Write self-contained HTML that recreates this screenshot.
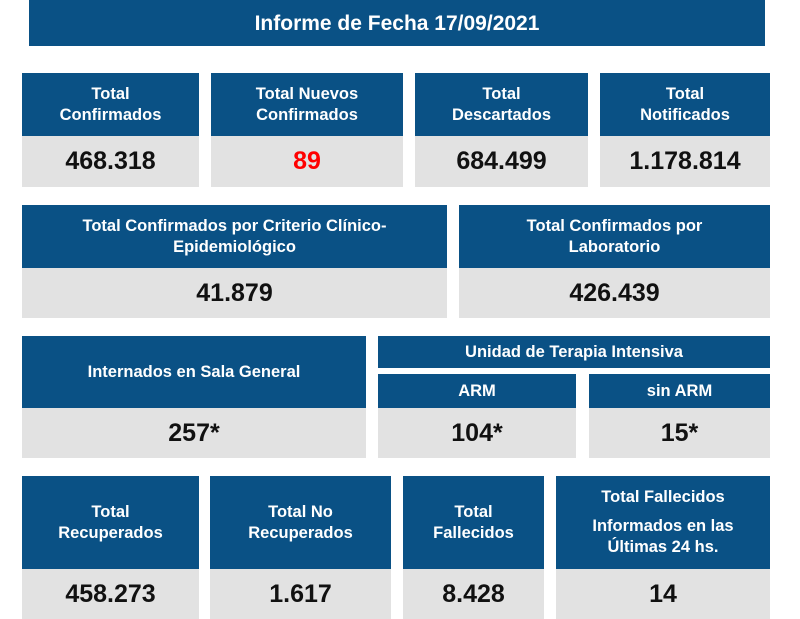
<!DOCTYPE html>
<html><head><meta charset="utf-8"><style>
body{margin:0;width:800px;height:619px;background:#fff;position:relative;overflow:hidden;font-family:"Liberation Sans",sans-serif;font-weight:bold}
.h{position:absolute;background:#0a5185;color:#fff;display:flex;align-items:center;justify-content:center;text-align:center;font-size:16.5px;line-height:21px}
.v{position:absolute;background:#e2e2e2;color:#111;display:flex;align-items:center;justify-content:center;font-size:25px}
</style></head><body>
<div class="h" style="left:29px;top:0;width:736px;height:46px;font-size:21px">Informe de Fecha 17/09/2021</div>

<div class="h" style="left:22px;top:73px;width:177px;height:63px">Total<br>Confirmados</div>
<div class="v" style="left:22px;top:136px;width:177px;height:51px">468.318</div>
<div class="h" style="left:211px;top:73px;width:192px;height:63px">Total Nuevos<br>Confirmados</div>
<div class="v" style="left:211px;top:136px;width:192px;height:51px;color:#f00">89</div>
<div class="h" style="left:415px;top:73px;width:173px;height:63px">Total<br>Descartados</div>
<div class="v" style="left:415px;top:136px;width:173px;height:51px">684.499</div>
<div class="h" style="left:600px;top:73px;width:170px;height:63px">Total<br>Notificados</div>
<div class="v" style="left:600px;top:136px;width:170px;height:51px">1.178.814</div>

<div class="h" style="left:22px;top:205px;width:425px;height:63px">Total Confirmados por Criterio Clínico-<br>Epidemiológico</div>
<div class="v" style="left:22px;top:268px;width:425px;height:50px">41.879</div>
<div class="h" style="left:459px;top:205px;width:311px;height:63px">Total Confirmados por<br>Laboratorio</div>
<div class="v" style="left:459px;top:268px;width:311px;height:50px">426.439</div>

<div class="h" style="left:22px;top:336px;width:344px;height:72px">Internados en Sala General</div>
<div class="v" style="left:22px;top:408px;width:344px;height:50px">257*</div>
<div class="h" style="left:378px;top:336px;width:392px;height:32px">Unidad de Terapia Intensiva</div>
<div class="h" style="left:378px;top:374px;width:198px;height:34px">ARM</div>
<div class="v" style="left:378px;top:408px;width:198px;height:50px">104*</div>
<div class="h" style="left:589px;top:374px;width:181px;height:34px">sin ARM</div>
<div class="v" style="left:589px;top:408px;width:181px;height:50px">15*</div>

<div class="h" style="left:22px;top:476px;width:177px;height:93px">Total<br>Recuperados</div>
<div class="v" style="left:22px;top:569px;width:177px;height:50px">458.273</div>
<div class="h" style="left:210px;top:476px;width:181px;height:93px">Total No<br>Recuperados</div>
<div class="v" style="left:210px;top:569px;width:181px;height:50px">1.617</div>
<div class="h" style="left:403px;top:476px;width:141px;height:93px">Total<br>Fallecidos</div>
<div class="v" style="left:403px;top:569px;width:141px;height:50px">8.428</div>
<div class="h" style="left:556px;top:476px;width:214px;height:93px;flex-direction:column"><div style="margin-bottom:8px">Total Fallecidos</div><div>Informados en las<br>Últimas 24 hs.</div></div>
<div class="v" style="left:556px;top:569px;width:214px;height:50px">14</div>
</body></html>
